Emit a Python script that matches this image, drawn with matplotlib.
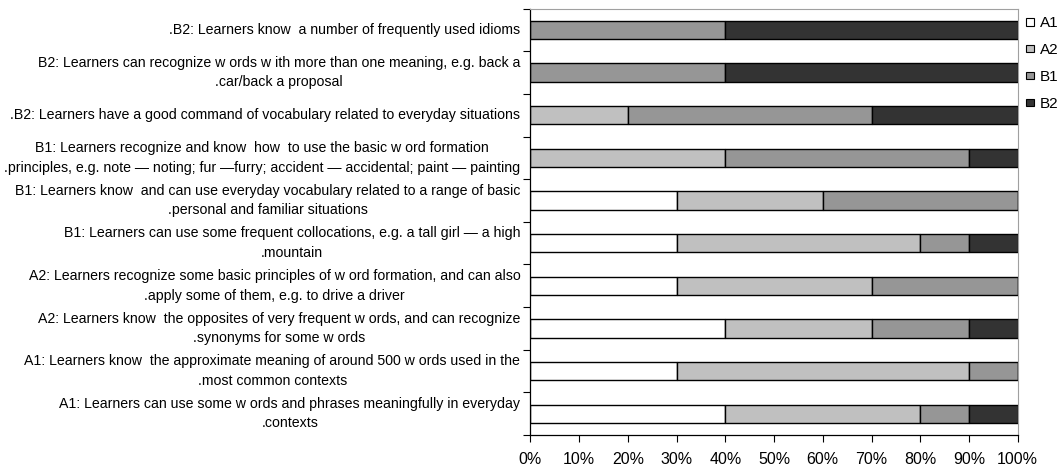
import matplotlib
matplotlib.use("Agg")
import matplotlib.pyplot as plt
from matplotlib.patches import Patch
from matplotlib.ticker import FixedLocator, PercentFormatter, NullFormatter
from matplotlib.transforms import blended_transform_factory, ScaledTranslation

plt.rcParams['font.family'] = ['Liberation Sans', 'DejaVu Sans']

# Descriptors, listed bottom to top
descriptors = [
    "A1: Learners can use some w ords and phrases meaningfully in everyday\n.contexts",
    "A1: Learners know  the approximate meaning of around 500 w ords used in the\n.most common contexts",
    "A2: Learners know  the opposites of very frequent w ords, and can recognize\n.synonyms for some w ords",
    "A2: Learners recognize some basic principles of w ord formation, and can also\n.apply some of them, e.g. to drive a driver",
    "B1: Learners can use some frequent collocations, e.g. a tall girl \u2014 a high\n.mountain",
    "B1: Learners know  and can use everyday vocabulary related to a range of basic\n.personal and familiar situations",
    "B1: Learners recognize and know  how  to use the basic w ord formation\n.principles, e.g. note \u2014 noting; fur \u2014furry; accident \u2014 accidental; paint \u2014 painting",
    ".B2: Learners have a good command of vocabulary related to everyday situations",
    "B2: Learners can recognize w ords w ith more than one meaning, e.g. back a\n.car/back a proposal",
    ".B2: Learners know  a number of frequently used idioms",
]

levels = ["A1", "A2", "B1", "B2"]
a1 = [40, 30, 40, 30, 30, 30, 0, 0, 0, 0]
a2 = [40, 60, 30, 40, 50, 30, 40, 20, 0, 0]
b1 = [10, 10, 20, 30, 10, 40, 50, 50, 40, 40]
b2 = [10, 0, 10, 0, 10, 0, 10, 30, 60, 60]
colors = ["#ffffff", "#c0c0c0", "#969696", "#333333"]

fig = plt.figure(figsize=(10.63, 4.70), dpi=100)
ax = fig.add_axes([0.4989, 0.0745, 0.4585, 0.907])

ypos = list(range(len(descriptors)))
left = [0] * len(descriptors)
for series, color in zip([a1, a2, b1, b2], colors):
    ax.barh(ypos, series, left=left, height=0.43, color=color,
            edgecolor="black", linewidth=1.0, zorder=2)
    left = [l + s for l, s in zip(left, series)]

ax.set_xlim(0, 100)
ax.set_ylim(-0.5, len(descriptors) - 0.5)

# x axis
ax.xaxis.set_major_locator(FixedLocator(range(0, 101, 10)))
ax.xaxis.set_major_formatter(PercentFormatter(decimals=0))
ax.tick_params(axis="x", direction="out", length=5, width=0.8, pad=7.5,
               labelsize=11.5)

# y axis: ticks on category boundaries, descriptors centred on each bar
ax.yaxis.set_major_locator(FixedLocator([i - 0.5 for i in range(len(descriptors) + 1)]))
ax.yaxis.set_major_formatter(NullFormatter())
ax.tick_params(axis="y", which="major", direction="out", length=5, width=0.8)

label_tf = blended_transform_factory(ax.transAxes, ax.transData) + \
    ScaledTranslation(-10 / 100, 0, fig.dpi_scale_trans)
for y, text in zip(ypos, descriptors):
    ax.text(0, y, text, transform=label_tf, ha="right", va="center",
            multialignment="center", linespacing=1.5, fontsize=10.2)

for side in ["left", "bottom"]:
    ax.spines[side].set_color("black")
    ax.spines[side].set_linewidth(0.9)
for side in ["top", "right"]:
    ax.spines[side].set_color("#a0a0a0")
    ax.spines[side].set_linewidth(0.8)

handles = [Patch(facecolor=c, edgecolor="black", linewidth=0.8) for c in colors]
fig.legend(handles, levels, loc="upper left",
           bbox_to_anchor=(1026 / 1063, 1 - 16 / 470),
           frameon=False, fontsize=11, handlelength=0.52, handleheight=0.42,
           handletextpad=0.4, labelspacing=0.85, borderpad=0, borderaxespad=0)

fig.savefig("out.png", dpi=100)
